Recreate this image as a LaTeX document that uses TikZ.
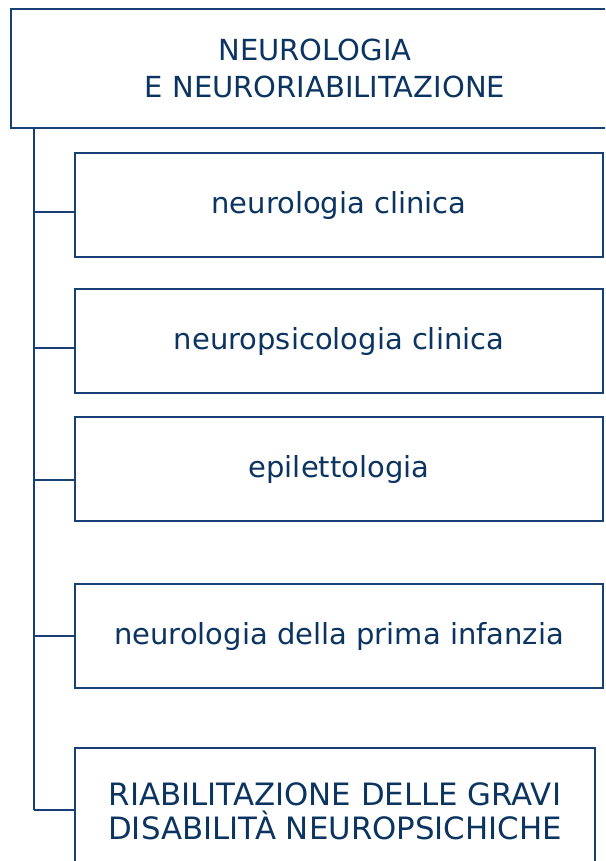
\documentclass[tikz,border=0pt]{standalone}
\usepackage{fontspec}
\setmainfont{DejaVu Sans}
\usetikzlibrary{positioning}
\definecolor{navyline}{RGB}{24,64,118}
\definecolor{navytext}{RGB}{12,52,96}
\tikzset{
  unitbox/.style={draw=navyline, line width=2.3pt, rectangle, text=navytext,
    align=center, inner sep=0pt, font=\fontsize{29}{37}\selectfont},
  link/.style={draw=navyline, line width=2.3pt}
}

\begin{document}
\begin{tikzpicture}[x=1pt, y=-1pt]
\useasboundingbox (0,0) rectangle (605,861);
\clip (0,0) rectangle (605,861);
% head unit
\node [unitbox, minimum width=628pt, minimum height=119pt] (head) at (325,68.5)
  {NEUROLOGIA\hspace*{20pt}\\E NEURORIABILITAZIONE};
% sub units
\node [unitbox, minimum width=528pt, minimum height=104pt] (clin) at (339,205) {neurologia clinica};
\node [unitbox, minimum width=528pt, minimum height=104pt] (psic) at (339,341) {neuropsicologia clinica};
\node [unitbox, minimum width=528pt, minimum height=104pt] (epil) at (339,469) {epilettologia};
\node [unitbox, minimum width=528pt, minimum height=104pt] (infa) at (339,636) {neurologia della prima infanzia};
\node [unitbox, minimum width=520pt, minimum height=126pt, font=\fontsize{30.8}{34}\selectfont]
  (riab) at (335,811) {RIABILITAZIONE DELLE GRAVI\\DISABILIT\`A NEUROPSICHICHE};
% trunk and branches
\coordinate (top) at (34,128);
\coordinate (b1) at (34,212);
\coordinate (b2) at (34,348);
\coordinate (b3) at (34,480);
\coordinate (b4) at (34,636);
\coordinate (b5) at (34,810);
\draw [link] (top) -- (b5);
\draw [link] (b1) -- (b1 -| clin.west);
\draw [link] (b2) -- (b2 -| psic.west);
\draw [link] (b3) -- (b3 -| epil.west);
\draw [link] (b4) -- (b4 -| infa.west);
\draw [link] (b5) -- (b5 -| riab.west);
\end{tikzpicture}
\end{document}
